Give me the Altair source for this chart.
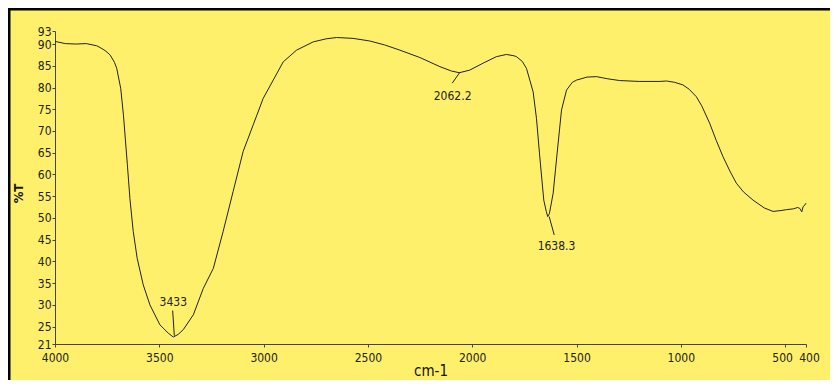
import altair as alt
import pandas as pd

# Spectrum (wavenumber cm-1, %T)
wavenumber = [4000, 3950, 3900, 3850, 3800, 3784, 3760, 3736, 3715, 3704, 3685, 3672,
              3653, 3641, 3625, 3606, 3577, 3545, 3497, 3457, 3433, 3410, 3385, 3337,
              3289, 3241, 3194, 3146, 3098, 3050, 3002, 2954, 2906, 2842, 2762, 2700,
              2650, 2571, 2491, 2420, 2347, 2251, 2155, 2100, 2062, 2012, 1948, 1884,
              1836, 1800, 1788, 1760, 1740, 1724, 1708, 1692, 1676, 1657, 1645, 1638,
              1630, 1612, 1593, 1572, 1548, 1520, 1500, 1450, 1404, 1350, 1293, 1200,
              1100, 1069, 1030, 990, 960, 926, 900, 862, 830, 798, 765, 734, 700, 654,
              600, 558, 520, 494, 460, 440, 430, 420, 414, 405, 400]
transmittance = [90.6, 90.1, 90.0, 90.1, 89.6, 89.2, 88.5, 87.5, 85.8, 84.4, 79.8, 73.7,
                 62.2, 54.5, 46.9, 40.7, 34.6, 30.0, 25.4, 23.5, 22.6, 23.2, 24.3, 27.7,
                 33.8, 38.4, 46.9, 56.1, 65.3, 71.4, 77.5, 81.7, 85.9, 88.6, 90.5, 91.2,
                 91.5, 91.3, 90.7, 89.8, 88.6, 86.9, 84.8, 83.8, 83.4, 84.0, 85.6, 87.1,
                 87.6, 87.3, 87.1, 86.0, 84.4, 81.7, 79.0, 72.9, 64.0, 54.1, 51.5, 50.3,
                 51.0, 55.7, 64.9, 74.8, 79.4, 81.2, 81.7, 82.4, 82.5, 82.0, 81.6, 81.4,
                 81.4, 81.5, 81.2, 80.6, 79.6, 77.9, 75.8, 71.8, 67.8, 64.1, 60.8, 58.0,
                 56.0, 54.1, 52.3, 51.5, 51.7, 51.9, 52.1, 52.4, 52.2, 51.4, 52.6, 53.0, 53.4]

# Peak annotations
peak_labels = ["3433", "2062.2", "1638.3"]
label_x = [3433, 2094, 1596]
label_y = [30.7, 78.1, 43.6]
leader_x1 = [3436, 2059, 1631]
leader_y1 = [28.7, 83.5, 50.3]
leader_x2 = [3428, 2096, 1607]
leader_y2 = [22.9, 81.0, 46.1]

x_ticks = [4000, 3500, 3000, 2500, 2000, 1500, 1000, 500, 400]
y_ticks = [21, 25, 30, 35, 40, 45, 50, 55, 60, 65, 70, 75, 80, 85, 90, 93]

FONT = "Liberation Sans Narrow, DejaVu Sans Condensed, Liberation Sans, Arial"
BG = "#FEF06B"
INK = "#222222"

spec = pd.DataFrame({"w": wavenumber, "t": transmittance})
ann = pd.DataFrame({"label": peak_labels, "lx": label_x, "ly": label_y,
                    "x1": leader_x1, "y1": leader_y1, "x2": leader_x2, "y2": leader_y2})

xscale = alt.Scale(domain=[4000, 400], nice=False, zero=False)
yscale = alt.Scale(domain=[21, 93], nice=False, zero=False)

x_axis = alt.Axis(values=x_ticks, title="cm-1", grid=False, format="d",
                  titleFontSize=15, titleFontWeight="normal", titleFont=FONT,
                  titleColor="#111", titleY=31, titleBaseline="alphabetic",
                  labelFont=FONT, labelFontSize=12, labelColor=INK,
                  labelOffset={"condition": [{"test": "datum.value == 500", "value": -3},
                                             {"test": "datum.value == 400", "value": 3}],
                               "value": 0},
                  labelPadding=5, tickSize=3, domainColor="#444", tickColor="#444",
                  labelFlush=False, labelOverlap=False)
y_axis = alt.Axis(values=y_ticks, title="%T", grid=False,
                  titleFontSize=13, titleFontWeight="bold", titleFont=FONT,
                  titleColor="#111", titleX=-30, titleY=162,
                  labelFont=FONT, labelFontSize=12, labelColor=INK,
                  labelPadding=1, tickSize=3, domainColor="#444", tickColor="#444",
                  labelFlush=False, labelOverlap=False)

line = alt.Chart(spec).mark_line(color=INK, strokeWidth=1).encode(
    x=alt.X("w:Q", scale=xscale, axis=x_axis),
    y=alt.Y("t:Q", scale=yscale, axis=y_axis),
    order=alt.Order("w:Q", sort="descending"),
)

leaders = alt.Chart(ann).mark_rule(color=INK, strokeWidth=1).encode(
    x=alt.X("x1:Q", scale=xscale, axis=x_axis), y=alt.Y("y1:Q", scale=yscale, axis=y_axis),
    x2="x2:Q", y2="y2:Q")

labels = alt.Chart(ann).mark_text(font=FONT, fontSize=12, color=INK, baseline="middle",
                                  align="center").encode(
    x=alt.X("lx:Q", scale=xscale, axis=x_axis), y=alt.Y("ly:Q", scale=yscale, axis=y_axis),
    text="label:N")

border_data = pd.DataFrame({"k": [0]})
left_border = alt.Chart(border_data).mark_rule(color="#000", strokeWidth=3).encode(
    x=alt.value(-46), y=alt.value(-23), y2=alt.value(380))
top_border = alt.Chart(border_data).mark_rule(color="#000", strokeWidth=3).encode(
    x=alt.value(-47), x2=alt.value(800), y=alt.value(-22))

chart = alt.layer(line, leaders, labels, left_border, top_border).properties(
    width=751, height=313,
    autosize=alt.AutoSizeParams(type="none"),
    padding={"left": 47, "top": 23, "right": 24, "bottom": 36},
    background=BG,
).configure_view(stroke=None).configure_axis(labelOverlap=False)

chart.save("out.html", embed_options={"renderer": "svg", "actions": False})
